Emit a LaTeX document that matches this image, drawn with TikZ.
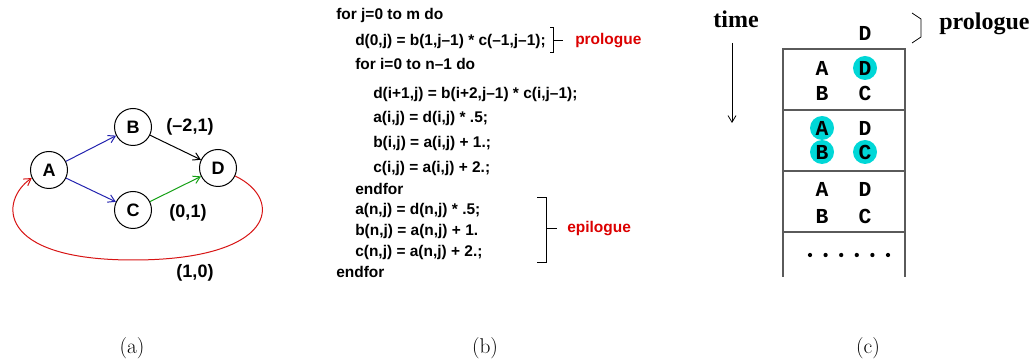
\documentclass[tikz,border=0pt]{standalone}
\usepackage{fontspec}
\usepackage{tikz}
\usetikzlibrary{
    arrows.meta,
    positioning,
    calc
}
\newfontfamily\codefont{Liberation Sans}
\newfontfamily\slotfont{Liberation Mono}
\newfontfamily\headfont{Liberation Serif}
\definecolor{EdgeBlue}{RGB}{35,35,175}
\definecolor{EdgeGreen}{RGB}{20,160,20}
\definecolor{LoopRed}{RGB}{215,20,20}
\definecolor{LabelRed}{RGB}{220,0,0}
\definecolor{MarkCyan}{RGB}{0,215,215}
\definecolor{BoxGray}{RGB}{90,90,90}

\begin{document}
\begin{tikzpicture}[
    x=0.75pt, y=0.75pt,
    >={Straight Barb[length=5pt,width=6pt]},
    vertex/.style={circle, draw, line width=0.75pt, minimum size=27.75pt,
        inner sep=0pt, font=\codefont\bfseries\fontsize{13.5}{15}\selectfont},
    deplabel/.style={font=\codefont\bfseries\fontsize{13.5}{15}\selectfont},
    codeline/.style={anchor=base west, inner sep=0pt,
        font=\codefont\bfseries\fontsize{11.6}{13}\selectfont},
    redlabel/.style={anchor=west, inner sep=0pt, text=LabelRed,
        font=\codefont\bfseries\fontsize{11.6}{13}\selectfont},
    slot/.style={inner sep=0pt, font=\slotfont\bfseries\fontsize{16}{18}\selectfont},
    hilite/.style={fill=MarkCyan, draw=none},
    headlabel/.style={inner sep=0pt, font=\headfont\bfseries\fontsize{18}{20}\selectfont},
    caption/.style={anchor=base, inner sep=0pt, font=\fontsize{16}{18}\selectfont}
]
\useasboundingbox (0,0) rectangle (1034,360);

% (a)
\node[vertex] (A) at (49,190) {A};
\node[vertex] (B) at (133,233) {B};
\node[vertex] (C) at (133,150) {C};
\node[vertex] (D) at (218,192) {D};

\draw[->, line width=0.75pt, EdgeBlue] (A) -- (B);
\draw[->, line width=0.75pt, EdgeBlue] (A) -- (C);
\draw[->, line width=0.75pt] (B) -- (D);
\draw[->, line width=0.75pt, EdgeGreen] (C) -- (D);

\coordinate (loopbot) at (133,100);
\draw[->, line width=0.75pt, LoopRed]
    (D.-25) .. controls (285,160) and (275,100) .. (loopbot)
    .. controls (-5,100) and (0,160) .. (A.205);

\node[deplabel] (lbd) at (190,233) {(–2,1)};
\node[deplabel] (lcd) at (188,147) {(0,1)};
\node[deplabel, anchor=base] (lda) at (195,82) {(1,0)};

% (b)
\foreach \txt/\x/\y [count=\i] in {
    {for j=0 to m do}/336/340,
    {d(0,j) = b(1,j–1) * c(–1,j–1);}/355/314,
    {for i=0 to n–1 do}/355/290,
    {d(i+1,j) = b(i+2,j–1) * c(i,j–1);}/373/261,
    {a(i,j) = d(i,j) * .5;}/373/237,
    {b(i,j) = a(i,j) + 1.;}/373/212,
    {c(i,j) = a(i,j) + 2.;}/373/187,
    {endfor}/355/165,
    {a(n,j) = d(n,j) * .5;}/355/145,
    {b(n,j) = a(n,j) + 1.}/355/124,
    {c(n,j) = a(n,j) + 2.;}/355/103,
    {endfor}/336/82}
    \node[codeline] (line\i) at (\x,\y) {\txt};

\coordinate (pro1) at (550,332);
\coordinate (pro2) at (553,332);
\coordinate (pro3) at (553,307);
\coordinate (pro4) at (550,307);
\coordinate (protick) at (563,319);
\draw[line width=0.75pt] (pro1) -- (pro2) -- (pro3) -- (pro4);
\draw[line width=0.75pt] (553,319) -- (protick);
\node[redlabel] (prolabel) at (575,319) {prologue};

\coordinate (epi1) at (537,162);
\coordinate (epi2) at (546,162);
\coordinate (epi3) at (546,97);
\coordinate (epi4) at (537,97);
\coordinate (epitick) at (557,131);
\draw[line width=0.75pt] (epi1) -- (epi2) -- (epi3) -- (epi4);
\draw[line width=0.75pt] (546,131) -- (epitick);
\node[redlabel] (epilabel) at (567,131) {epilogue};

% (c)
\node[headlabel, anchor=base] (time) at (736,332) {time};
\coordinate (timetop) at (732,317);
\coordinate (timebot) at (732,237);
\draw[->, line width=0.6pt] (timetop) -- (timebot);

\draw[line width=0.9pt, BoxGray] (783,83) -- (783,311) -- (905,311) -- (905,83);
\foreach \y in {250,189,128}
    \draw[line width=0.9pt, BoxGray] (783,\y) -- (905,\y);

\foreach \x/\y in {865/292, 822/232, 822/208, 865/208}
    \fill[hilite] (\x,\y) circle (9pt);

\node[slot] (d0) at (865,327) {D};
\foreach \y/\yy [count=\r] in {292/267, 232/208, 171/144} {
    \node[slot] (a\r) at (822,\y) {A};
    \node[slot] (d\r) at (865,\y) {D};
    \node[slot] (b\r) at (822,\yy) {B};
    \node[slot] (c\r) at (865,\yy) {C};
}
\foreach \k in {0,...,5}
    \fill (810+15.6*\k,105) circle (1.6pt);

\coordinate (br1) at (912,347);
\coordinate (br2) at (921,341);
\coordinate (br3) at (921,323);
\coordinate (br4) at (912,317);
\draw[line width=0.6pt] (br1) -- (br2) -- (br3) -- (br4);
\node[headlabel, anchor=base west] (prohead) at (939,330) {prologue};

% captions
\node[caption] (capa) at (132,7) {(a)};
\node[caption] (capb) at (485,7) {(b)};
\node[caption] (capc) at (868,7) {(c)};

\end{tikzpicture}
\end{document}
